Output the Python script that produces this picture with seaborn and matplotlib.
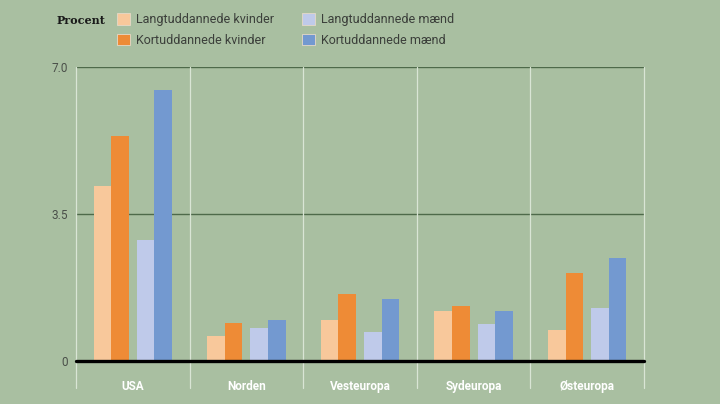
import matplotlib
matplotlib.use("Agg")
import matplotlib.pyplot as plt
import seaborn as sns
import pandas as pd
from matplotlib.patches import Patch

regions = ["USA", "Norden", "Vesteuropa", "Sydeuropa", "Østeuropa"]
series = ["Langtuddannede kvinder", "Kortuddannede kvinder",
          "Langtuddannede mænd", "Kortuddannede mænd"]
lang_kvinder = [4.17, 0.59, 0.97, 1.17, 0.73]
kort_kvinder = [5.36, 0.89, 1.59, 1.29, 2.09]
lang_maend = [2.88, 0.77, 0.67, 0.86, 1.25]
kort_maend = [6.45, 0.96, 1.46, 1.17, 2.44]
yticks = [0, 3.5, 7.0]
ytick_labels = ["0", "3.5", "7.0"]
colors = ["#f8c89b", "#ee8b36", "#bfcaea", "#7399d0"]

values = [lang_kvinder, kort_kvinder, lang_maend, kort_maend]
rows = []
for s, vals in zip(series, values):
    for r, v in zip(regions, vals):
        rows.append({"region": r, "serie": s, "value": v})
df = pd.DataFrame(rows)

bg = "#a9bfa1"
sns.set_theme(style="white")
plt.rcParams["font.family"] = ["Roboto", "DejaVu Sans"]

fig = plt.figure(figsize=(7.2, 4.04), dpi=100)
fig.patch.set_facecolor(bg)
ax = fig.add_axes([76/720, 1-360.5/404, (644-76)/720, (360.5-67)/404])
ax.set_facecolor(bg)

sns.barplot(data=df, x="region", y="value", hue="serie", order=regions,
            hue_order=series, palette=colors, width=0.62, saturation=1,
            ax=ax, legend=False, zorder=3)

# small gap between the women pair and the men pair
shift = 0.035
for i, container in enumerate(ax.containers):
    d = -shift if i < 2 else shift
    for p in container:
        p.set_x(p.get_x() + d)
        p.set_linewidth(0)

ax.set_xlim(-0.5, 4.5)
ax.set_ylim(0, 7.0)
for s in ax.spines.values():
    s.set_visible(False)

for y in [3.5, 7.0]:
    ax.axhline(y, color="#4e6a4a", lw=1.0, zorder=1)
ax.axhline(0, color="black", lw=2.4, zorder=5, clip_on=False)

for x in [-0.5, 0.5, 1.5, 2.5, 3.5, 4.5]:
    ax.axvline(x, ymin=-0.094, ymax=1, color="#d9e5d5", lw=0.9,
               zorder=2, clip_on=False)

ax.set_yticks(yticks)
ax.set_yticklabels(ytick_labels)
ax.tick_params(axis="y", length=0, pad=6, labelsize=8.5, labelcolor="#4a4f49")
ax.tick_params(axis="x", length=0, pad=14, labelsize=8.5)
for t in ax.get_xticklabels():
    t.set_color("white")
    t.set_fontweight("bold")
ax.set_xlabel("")
ax.set_ylabel("")

fig.text(57/720, 1-20/404, "Procent", family=["DejaVu Serif"], fontweight="bold",
         fontsize=8, color="#1a1a1a", va="center", ha="left")

handles = [Patch(facecolor=c, edgecolor="#e6d9c8", linewidth=0.6) for c in colors]
leg_kw = dict(loc="upper left", frameon=False, fontsize=9,
              handlelength=1.05, handleheight=1.05, handletextpad=0.45,
              labelspacing=0.62, borderaxespad=0, borderpad=0)
leg1 = fig.legend(handles[:2], series[:2], bbox_to_anchor=(117/720, 1-13/404), **leg_kw)
leg2 = fig.legend(handles[2:], series[2:], bbox_to_anchor=(302/720, 1-13/404), **leg_kw)
for leg in (leg1, leg2):
    for t in leg.get_texts():
        t.set_color("#3b3f3a")

fig.savefig("out.png", dpi=100, facecolor=bg)
